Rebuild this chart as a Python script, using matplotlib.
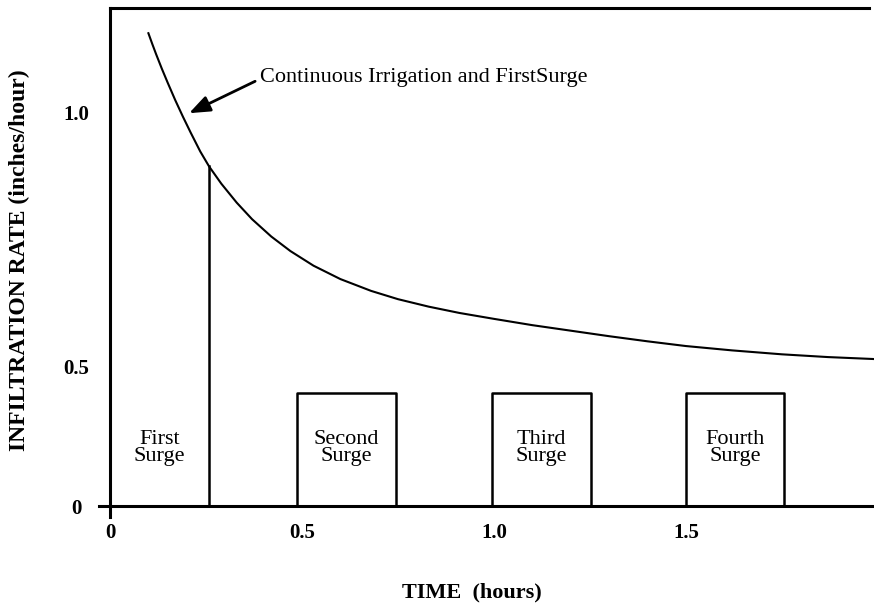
import matplotlib.pyplot as plt

plt.rcParams["font.family"] = ["Liberation Serif", "DejaVu Serif"]

# infiltration curve (continuous irrigation and first surge)
curve_t = [0.10, 0.11, 0.12, 0.135, 0.15, 0.17, 0.19, 0.21, 0.235, 0.258,
           0.29, 0.33, 0.37, 0.42, 0.47, 0.53, 0.60, 0.68, 0.75, 0.83, 0.91,
           1.00, 1.10, 1.20, 1.30, 1.40, 1.50, 1.62, 1.75, 1.87, 1.99]
curve_rate = [1.200, 1.173, 1.147, 1.110, 1.075, 1.030, 0.988, 0.948, 0.900, 0.862,
              0.818, 0.770, 0.728, 0.684, 0.647, 0.610, 0.576, 0.546, 0.525, 0.506, 0.490,
              0.475, 0.459, 0.445, 0.431, 0.418, 0.406, 0.395, 0.385, 0.378, 0.373]

# surges: first one ends on the curve, later ones are boxes
first_surge_end = 0.258
first_surge_rate = 0.862
later_starts = [0.487, 0.995, 1.50]
later_ends = [0.745, 1.253, 1.755]
surge_rate = 0.286
surge_labels = ["First\nSurge", "Second\nSurge", "Third\nSurge", "Fourth\nSurge"]

x_ticks = [0, 0.5, 1.0, 1.5]
x_tick_labels = ["0", "0.5", "1.0", "1.5"]
y_ticks = [0, 0.353, 1.0]
y_tick_labels = ["0", "0.5", "1.0"]

fig = plt.figure(figsize=(8.74, 6.08), dpi=100)
ax = fig.add_axes([110 / 874, 102 / 608, 764 / 874, 498 / 608])

BW = 1.8
ax.plot(curve_t, curve_rate, color="k", lw=1.5, clip_on=False, solid_joinstyle="round")

ax.plot([first_surge_end, first_surge_end], [0, first_surge_rate], color="k", lw=BW)
for x0, x1 in zip(later_starts, later_ends):
    ax.plot([x0, x0, x1, x1], [0, surge_rate, surge_rate, 0], color="k", lw=BW)

centres = [first_surge_end / 2] + [(a + b) / 2 for a, b in zip(later_starts, later_ends)]
for xc, lab in zip(centres, surge_labels):
    ax.text(xc, 0.147, lab, ha="center", va="center", fontsize=16, linespacing=0.85)

ax.annotate(
    "",
    xy=(0.206, 0.997),
    xytext=(0.378, 1.078),
    arrowprops=dict(arrowstyle="-|>,head_length=0.9,head_width=0.35", color="k", lw=2.0,
                    mutation_scale=14, shrinkA=0, shrinkB=0),
)
ax.text(0.39, 1.088, "Continuous Irrigation and FirstSurge", fontsize=16, va="center", ha="left")

ax.set_xlim(0, 1.99)
ax.set_ylim(0, 1.264)

ax.spines["right"].set_visible(False)
ax.spines["top"].set_bounds(0, 1.978)
ax.spines["bottom"].set_bounds(-0.029, 1.99)
ax.spines["left"].set_bounds(-0.028, 1.264)
for s in ("top", "bottom", "left"):
    ax.spines[s].set_linewidth(2.2)

ax.set_xticks(x_ticks)
ax.set_xticklabels(x_tick_labels, fontsize=15, fontweight="bold")
ax.set_yticks(y_ticks)
ax.set_yticklabels(y_tick_labels, fontsize=15, fontweight="bold", ha="center")
ax.tick_params(length=0)
ax.tick_params(axis="x", pad=12)
ax.tick_params(axis="y", pad=24)

ax.set_xlabel("TIME  (hours)", fontsize=16, fontweight="bold", va="center")
ax.xaxis.set_label_coords(0.474, -0.173)
ax.set_ylabel("INFILTRATION RATE (inches/hour)", fontsize=17, fontweight="bold", va="center")
ax.yaxis.set_label_coords(-0.118, 0.494)

fig.savefig("out.png", dpi=100)
